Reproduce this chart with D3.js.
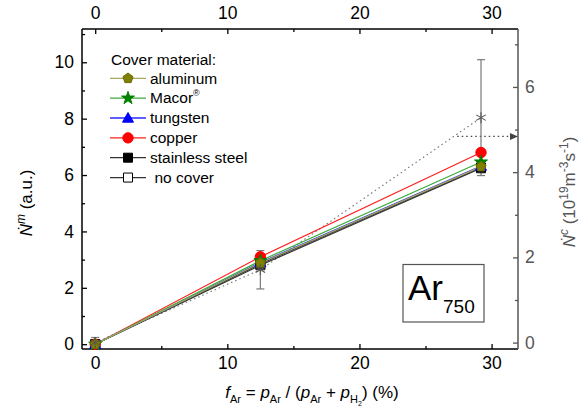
<!DOCTYPE html>
<html><head><meta charset="utf-8">
<script src="https://cdn.jsdelivr.net/npm/d3@7"></script>
<style>body{margin:0;background:#fff}svg{display:block}text{font-family:"Liberation Sans",Arial,sans-serif}</style>
</head><body><svg id="c" width="581" height="416"></svg>
<script>
// ---- data ----
const fAr = [0, 12.5, 29.2];
const seriesNames = ["aluminum", "Macor", "tungsten", "copper", "stainless steel", "no cover"];
const aluminum = [0, 2.88, 6.30];
const macor = [0, 2.96, 6.46];
const tungsten = [0, 2.90, 6.32];
const copper = [0, 3.10, 6.80];
const stainless = [0, 2.85, 6.27];
const noCover = [0, 2.80, 6.24];
const ncValues = [0, 1.71, 5.28];      // right axis (10^19 m^-3 s^-1)
const ncErrors = [0.12, 0.45, 1.36];
const arrowFrom = [27.4, 4.84];        // horizontal dotted arrow: start x, y (right axis)
const xTicks = [0, 10, 20, 30];
const xMinor = [5, 15, 25];
const yLTicks = [0, 2, 4, 6, 8, 10];
const yLMinor = [1, 3, 5, 7, 9, 11];
const yRTicks = [0, 2, 4, 6];
const yRMinor = [1, 3, 5, 7];

const svg = d3.select("#c");
const L = 82, R = 518, T = 29, B = 349;
const x = d3.scaleLinear().domain([-1, 32]).range([L, R]);
const yL = d3.scaleLinear().domain([-0.17, 11.18]).range([B, T]);
const yR = d3.scaleLinear().domain([-0.15, 7.36]).range([B, T]);
const grayAx = "#555";

// axes
function ax(gen, tx, vals, size, pad, color, labels) {
  const g = svg.append("g").attr("transform", tx)
    .call(gen.tickValues(vals).tickSizeInner(size).tickSizeOuter(0).tickPadding(pad)
      .tickFormat(labels ? d3.format("d") : () => ""));
  g.select(".domain").remove();
  g.selectAll("line").attr("stroke", color).attr("stroke-width", 1.3);
  g.selectAll("text").attr("fill", color).style("font-size", "17.5px").style("font-family", '"Liberation Sans",Arial,sans-serif');
  return g;
}
ax(d3.axisBottom(x), `translate(0,${B})`, xTicks, -5, 8, "#000", true);
ax(d3.axisBottom(x), `translate(0,${B})`, xMinor, -3, 8, "#000", false);
ax(d3.axisTop(x), `translate(0,${T})`, xTicks, -5, 10.5, "#000", true);
ax(d3.axisTop(x), `translate(0,${T})`, xMinor, -3, 10, "#000", false);
ax(d3.axisLeft(yL), `translate(${L},0)`, yLTicks, -5, 8, "#000", true);
ax(d3.axisLeft(yL), `translate(${L},0)`, yLMinor, -3, 8, "#000", false);
ax(d3.axisRight(yR), `translate(${R},0)`, yRTicks, -5, 7, grayAx, true);
ax(d3.axisRight(yR), `translate(${R},0)`, yRMinor, -3, 7, grayAx, false);

svg.append("line").attr("x1", L).attr("x2", R).attr("y1", T).attr("y2", T).attr("stroke", "#000").attr("stroke-width", 1.5);
svg.append("line").attr("x1", L).attr("x2", R).attr("y1", B).attr("y2", B).attr("stroke", "#000").attr("stroke-width", 1.5);
svg.append("line").attr("x1", L).attr("x2", L).attr("y1", T).attr("y2", B).attr("stroke", "#000").attr("stroke-width", 1.5);
svg.append("line").attr("x1", R).attr("x2", R).attr("y1", T).attr("y2", B).attr("stroke", grayAx).attr("stroke-width", 1.5);

// Nc dotted line + errors + asterisks
const ncGray = "#7a7a7a";
svg.append("path").datum(fAr.map((f, i) => [f, ncValues[i]]))
  .attr("d", d3.line().x(d => x(d[0])).y(d => yR(d[1])))
  .attr("fill", "none").attr("stroke", ncGray).attr("stroke-width", 1.2).attr("stroke-dasharray", "1.5,3");
svg.append("line").attr("x1", x(arrowFrom[0])).attr("x2", R - 7)
  .attr("y1", yR(arrowFrom[1])).attr("y2", yR(arrowFrom[1]))
  .attr("stroke", "#444").attr("stroke-width", 1.2).attr("stroke-dasharray", "1.5,3");
svg.append("path").attr("d", `M${R},${yR(arrowFrom[1])} l-8,-3.5 l0,7 z`).attr("fill", "#444");

fAr.forEach((f, i) => {
  const cx = x(f), t = yR(ncValues[i] + ncErrors[i]), b = yR(ncValues[i] - ncErrors[i]);
  const g = svg.append("g").attr("stroke", ncGray).attr("stroke-width", 1.2);
  g.append("line").attr("x1", cx).attr("x2", cx).attr("y1", t).attr("y2", b);
  g.append("line").attr("x1", cx - 4).attr("x2", cx + 4).attr("y1", t).attr("y2", t);
  g.append("line").attr("x1", cx - 4).attr("x2", cx + 4).attr("y1", b).attr("y2", b);
});

// main series
const series = [
  {name: seriesNames[0], v: aluminum, line: "#a8a860", fill: "#808000", stroke: "#6b6b00", sym: "pent"},
  {name: seriesNames[1], v: macor, line: "#3cab3c", fill: "#008000", stroke: "#008000", sym: "star"},
  {name: seriesNames[2], v: tungsten, line: "#2a2aff", fill: "#0000ff", stroke: "#0000ff", sym: "tri"},
  {name: seriesNames[3], v: copper, line: "#ff2020", fill: "#ff0000", stroke: "#ff0000", sym: "circle"},
  {name: seriesNames[4], v: stainless, line: "#333", fill: "#000", stroke: "#000", sym: "square"},
  {name: seriesNames[5], v: noCover, line: "#333", fill: "#fff", stroke: "#000", sym: "square"}
];
function symPath(s) {
  if (s === "pent") {
    const r = 5.3; let p = "";
    for (let k = 0; k < 5; k++) { const a = -Math.PI / 2 + k * 2 * Math.PI / 5; p += (k ? "L" : "M") + (r * Math.cos(a)).toFixed(2) + "," + (r * Math.sin(a)).toFixed(2); }
    return p + "Z";
  }
  if (s === "star") return d3.symbol(d3.symbolStar, 52)();
  if (s === "tri") return "M0,-5.5L5.5,4.2L-5.5,4.2Z";
  if (s === "circle") return d3.symbol(d3.symbolCircle, 85)();
  if (s === "square") return "M-4.5,-4.5H4.5V4.5H-4.5Z";
}
const line = d3.line().x((d, i) => x(fAr[i])).y(d => yL(d));
series.slice().reverse().forEach(s => {
  svg.append("path").datum(s.v).attr("d", line).attr("fill", "none").attr("stroke", s.line).attr("stroke-width", 1.2);
});
series.slice().reverse().forEach(s => {
  s.v.forEach((v, i) => {
    svg.append("path").attr("d", symPath(s.sym)).attr("transform", `translate(${x(fAr[i])},${yL(v)})`)
      .attr("fill", s.fill).attr("stroke", s.stroke).attr("stroke-width", 1);
  });
});
// asterisks on top
fAr.forEach((f, i) => {
  const cx = x(f), cy = yR(ncValues[i]), r = 5.5;
  const g = svg.append("g").attr("stroke", "#555").attr("stroke-width", 1.1);
  [90, 30, 150].forEach(a => {
    const rad = a * Math.PI / 180;
    g.append("line").attr("x1", cx - r * Math.cos(rad)).attr("y1", cy - r * Math.sin(rad))
      .attr("x2", cx + r * Math.cos(rad)).attr("y2", cy + r * Math.sin(rad));
  });
});

// legend
const lg = svg.append("g");
lg.append("text").attr("x", 111).attr("y", 64.5).style("font-size", "15.5px").text("Cover material:");
series.forEach((s, i) => {
  const cy = 78.3 + i * 19.85;
  lg.append("line").attr("x1", 110).attr("x2", 146).attr("y1", cy).attr("y2", cy).attr("stroke", s.line).attr("stroke-width", 1.3);
  lg.append("path").attr("d", symPath(s.sym)).attr("transform", `translate(128,${cy})`)
    .attr("fill", s.fill).attr("stroke", s.stroke).attr("stroke-width", 1);
  const t = lg.append("text").attr("x", i === 5 ? 154.5 : 150).attr("y", cy + 5.3).style("font-size", "15.5px");
  if (i === 1) {
    t.append("tspan").text("Macor");
    t.append("tspan").attr("dy", -7).style("font-size", "9px").text("®");
  } else t.text(s.name);
});

// Ar750 box
svg.append("rect").attr("x", 403).attr("y", 264.5).attr("width", 81).attr("height", 57.5)
  .attr("fill", "#fff").attr("stroke", "#555").attr("stroke-width", 1.2);
const at = svg.append("text").attr("x", 408).attr("y", 300);
at.append("tspan").style("font-size", "35px").text("Ar");
at.append("tspan").attr("dy", 13).style("font-size", "19px").text("750");

// axis titles
const bt = svg.append("text").attr("x", 312).attr("y", 398).attr("text-anchor", "middle").style("font-size", "17px");
function part(t, txt, opts = {}) {
  const s = t.append("tspan").text(txt);
  if (opts.it) s.style("font-style", "italic");
  if (opts.size) s.style("font-size", opts.size + "px");
  if (opts.dy) s.attr("dy", opts.dy);
  return s;
}
part(bt, "f", {it: 1}); part(bt, "Ar", {size: 11, dy: 5});
part(bt, " = ", {dy: -5}); part(bt, "p", {it: 1}); part(bt, "Ar", {size: 11, dy: 5});
part(bt, " / (", {dy: -5}); part(bt, "p", {it: 1}); part(bt, "Ar", {size: 11, dy: 5});
part(bt, " + ", {dy: -5}); part(bt, "p", {it: 1}); part(bt, "H", {size: 11, dy: 5}); part(bt, "2", {size: 7, dy: 3});
part(bt, ") (%)", {dy: -8});

const lt = svg.append("text").attr("transform", "translate(32,203) rotate(-90)").attr("text-anchor", "middle").style("font-size", "17px");
part(lt, "N\u0307", {it: 1}); part(lt, "m", {it: 1, size: 12, dy: -7}); part(lt, " (a.u.)", {dy: 7});

const rt = svg.append("text").attr("transform", "translate(575,192) rotate(-90)").attr("text-anchor", "middle").style("font-size", "17px").attr("fill", "#555");
part(rt, "N\u0307", {it: 1}); part(rt, "c", {it: 1, size: 12, dy: -7}); part(rt, " (10", {dy: 7});
part(rt, "19", {size: 12, dy: -7}); part(rt, "m", {dy: 7}); part(rt, "-3", {size: 12, dy: -7});
part(rt, "s", {dy: 7}); part(rt, "-1", {size: 12, dy: -7}); part(rt, ")", {dy: 7});
</script></body></html>
